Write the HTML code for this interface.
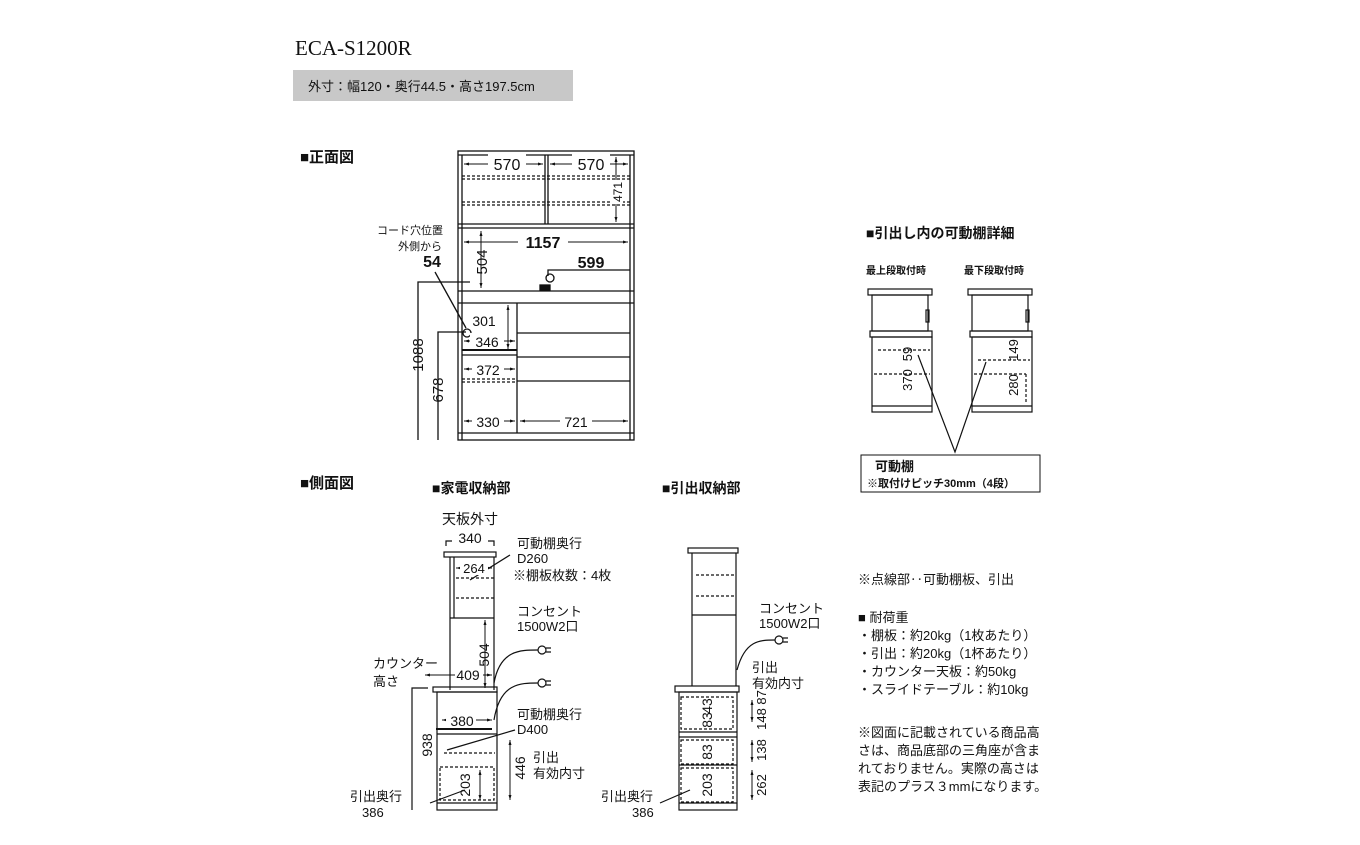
<!DOCTYPE html>
<html><head><meta charset="utf-8"><style>
body{margin:0;background:#fff}
svg text{font-family:"Liberation Sans","Noto Sans CJK JP",sans-serif;fill:#111}
</style></head><body>
<svg width="1360" height="840" viewBox="0 0 1360 840" xmlns="http://www.w3.org/2000/svg">
<defs><marker id="a" viewBox="0 0 10 10" refX="10" refY="5" markerWidth="5" markerHeight="5" orient="auto-start-reverse"><path d="M0,2L10,5L0,8z" fill="#111"/></marker></defs>
<text x="295" y="55" style="font-family:'Liberation Serif',serif" font-size="21">ECA-S1200R</text>
<rect x="293" y="70" width="280" height="31" fill="#c8c8c8"/>
<text x="308" y="91" font-size="13">外寸：幅120・奥行44.5・高さ197.5cm</text>
<text x="300" y="162" font-size="15" font-weight="bold">■正面図</text>
<text x="300" y="488" font-size="15" font-weight="bold">■側面図</text>
<text x="432" y="493" font-size="14" font-weight="bold">■家電収納部</text>
<text x="662" y="493" font-size="14" font-weight="bold">■引出収納部</text>
<text x="866" y="238" font-size="14" font-weight="bold">■引出し内の可動棚詳細</text>
<g fill="none" stroke="#111" stroke-width="1.3">
<rect x="458" y="151" width="176" height="289"/>
<line x1="462" y1="155" x2="462" y2="440"/><line x1="630" y1="155" x2="630" y2="440"/>
<line x1="458" y1="155" x2="634" y2="155"/>
<line x1="545" y1="155" x2="545" y2="224"/><line x1="548" y1="155" x2="548" y2="224"/>
<line x1="458" y1="224" x2="634" y2="224"/><line x1="458" y1="228" x2="634" y2="228"/>
<line x1="458" y1="291" x2="634" y2="291"/><line x1="458" y1="303" x2="634" y2="303"/>
<line x1="517" y1="303" x2="517" y2="433"/>
<line x1="462" y1="350" x2="517" y2="350" stroke-width="2"/><line x1="462" y1="355" x2="517" y2="355"/>
<line x1="517" y1="333" x2="630" y2="333"/><line x1="517" y1="357" x2="630" y2="357"/><line x1="517" y1="381" x2="630" y2="381"/>
<line x1="458" y1="433" x2="634" y2="433"/>
<g stroke-dasharray="3,2"><line x1="462" y1="176" x2="630" y2="176"/><line x1="462" y1="179" x2="630" y2="179"/><line x1="462" y1="202" x2="630" y2="202"/><line x1="462" y1="205" x2="630" y2="205"/><line x1="462" y1="379" x2="515" y2="379"/><line x1="462" y1="382" x2="515" y2="382"/></g>
<g stroke-width="1" marker-start="url(#a)" marker-end="url(#a)">
<line x1="464" y1="164" x2="543" y2="164"/><line x1="550" y1="164" x2="628" y2="164"/>
<line x1="464" y1="242" x2="628" y2="242"/><line x1="481" y1="231" x2="481" y2="288"/>
<line x1="616" y1="157" x2="616" y2="222"/><line x1="464" y1="341" x2="515" y2="341"/>
<line x1="508" y1="305" x2="508" y2="349"/><line x1="464" y1="369" x2="515" y2="369"/>
<line x1="464" y1="421" x2="515" y2="421"/><line x1="520" y1="421" x2="628" y2="421"/>
</g>
<polyline points="418,440 418,282 470,282"/><polyline points="438,440 438,332 466,332"/>
<polyline points="548,276 548,270 630,270"/>
<line x1="435" y1="272" x2="466" y2="328"/>
<circle cx="467" cy="333" r="4"/><circle cx="550" cy="278" r="4"/>
<rect x="540" y="285" width="10" height="5" fill="#111"/>
</g>
<g font-size="16" text-anchor="middle">
<rect x="488" y="154" width="38" height="18" fill="#fff"/><text x="507" y="170">570</text>
<rect x="572" y="154" width="38" height="18" fill="#fff"/><text x="591" y="170">570</text>
<rect x="518" y="233" width="50" height="18" fill="#fff"/><text x="543" y="248" font-weight="bold">1157</text>
<text x="591" y="268" font-weight="bold">599</text>
<rect x="470" y="333" width="34" height="16" fill="#fff"/><text x="487" y="347" font-size="14">346</text>
<text x="484" y="326" font-size="14">301</text>
<rect x="472" y="361" width="32" height="16" fill="#fff"/><text x="488" y="375" font-size="14">372</text>
<rect x="472" y="413" width="32" height="16" fill="#fff"/><text x="488" y="427" font-size="14">330</text>
<rect x="560" y="413" width="32" height="16" fill="#fff"/><text x="576" y="427" font-size="14">721</text>
<text x="432" y="267" font-weight="bold">54</text>
</g>
<text x="410" y="234" font-size="11" text-anchor="middle">コード穴位置</text>
<text x="420" y="250" font-size="11" text-anchor="middle">外側から</text>
<g font-size="15">
<text transform="translate(487,262) rotate(-90)" text-anchor="middle">504</text>
<rect x="611" y="180" width="12" height="24" fill="#fff"/>
<text transform="translate(622,192) rotate(-90)" text-anchor="middle" font-size="12">471</text>
<text transform="translate(423,355) rotate(-90)" text-anchor="middle">1088</text>
<text transform="translate(443,390) rotate(-90)" text-anchor="middle">678</text>
</g>
<g fill="none" stroke="#111" stroke-width="1.2">
<rect x="868" y="289" width="64" height="6"/><rect x="872" y="295" width="56" height="36"/>
<rect x="870" y="331" width="62" height="6"/><rect x="872" y="337" width="60" height="75"/>
<line x1="872" y1="406" x2="932" y2="406"/>
<rect x="968" y="289" width="64" height="6"/><rect x="972" y="295" width="56" height="36"/>
<rect x="970" y="331" width="62" height="6"/><rect x="972" y="337" width="60" height="75"/>
<line x1="972" y1="406" x2="1032" y2="406"/>
<rect x="926" y="310" width="3" height="12"/><rect x="1026" y="310" width="3" height="12"/>
<g stroke-dasharray="3,2"><line x1="878" y1="350" x2="930" y2="350"/><line x1="874" y1="374" x2="930" y2="374"/><line x1="978" y1="360" x2="1030" y2="360"/><line x1="974" y1="374" x2="1026" y2="374"/><line x1="1026" y1="374" x2="1026" y2="404"/></g>
<polyline points="918,355 955,452 986,362"/>
<rect x="861" y="455" width="179" height="37" stroke-width="1"/>
</g>
<g font-size="13"><text transform="translate(912,354) rotate(-90)" text-anchor="middle">59</text><text transform="translate(912,380) rotate(-90)" text-anchor="middle">370</text>
<text transform="translate(1018,350) rotate(-90)" text-anchor="middle">149</text><text transform="translate(1018,385) rotate(-90)" text-anchor="middle">280</text></g>
<text x="866" y="274" font-size="10" font-weight="bold">最上段取付時</text>
<text x="964" y="274" font-size="10" font-weight="bold">最下段取付時</text>
<text x="875" y="471" font-size="13" font-weight="bold">可動棚</text>
<text x="867" y="487" font-size="11" font-weight="bold">※取付けピッチ30mm（4段）</text>
<g fill="none" stroke="#111" stroke-width="1.2">
<polyline points="446,546 446,541 452,541"/><polyline points="488,541 494,541 494,546"/>
<rect x="444" y="552" width="52" height="5"/><line x1="450" y1="557" x2="450" y2="690"/><line x1="494" y1="557" x2="494" y2="690"/>
<line x1="450" y1="618" x2="494" y2="618"/><line x1="454" y1="557" x2="454" y2="618"/>
<rect x="433" y="687" width="64" height="5"/><rect x="437" y="692" width="60" height="118"/>
<line x1="436" y1="729" x2="492" y2="729" stroke-width="2"/><line x1="437" y1="734" x2="497" y2="734"/>
<line x1="437" y1="803" x2="497" y2="803"/>
<g stroke-dasharray="3,2"><line x1="456" y1="578" x2="494" y2="578"/><line x1="456" y1="598" x2="494" y2="598"/><line x1="444" y1="753" x2="495" y2="753"/><rect x="440" y="767" width="54" height="33"/></g>
<polyline points="412,810 412,688 428,688"/>
<rect x="688" y="548" width="50" height="5"/><line x1="692" y1="553" x2="692" y2="686"/><line x1="736" y1="553" x2="736" y2="686"/>
<line x1="692" y1="615" x2="736" y2="615"/>
<rect x="675" y="686" width="64" height="6"/><rect x="679" y="692" width="58" height="118"/>
<line x1="679" y1="732" x2="737" y2="732"/><line x1="679" y1="737" x2="737" y2="737"/><line x1="679" y1="765" x2="737" y2="765"/><line x1="679" y1="803" x2="737" y2="803"/>
<g stroke-dasharray="3,2"><rect x="681" y="697" width="52" height="32"/><rect x="681" y="740" width="52" height="24"/><rect x="681" y="768" width="52" height="34"/><line x1="696" y1="575" x2="736" y2="575"/><line x1="696" y1="596" x2="736" y2="596"/></g>
<path d="M494,683 C500,650 520,650 538,650"/><path d="M494,720 C500,683 520,683 538,683"/>
<path d="M737,670 C745,640 760,640 775,640"/>
<circle cx="542" cy="650" r="4"/><circle cx="542" cy="683" r="4"/><circle cx="779" cy="640" r="4"/>
<path d="M546,648h5M546,652h5M546,681h5M546,685h5M783,638h5M783,642h5"/>
<line x1="447" y1="750" x2="515" y2="730"/><line x1="430" y1="803" x2="465" y2="790"/><line x1="660" y1="803" x2="690" y2="790"/><line x1="470" y1="580" x2="510" y2="555"/>
</g>
<g stroke="#111" stroke-width="1" marker-start="url(#a)" marker-end="url(#a)">
<line x1="456" y1="568" x2="492" y2="568"/><line x1="485" y1="620" x2="485" y2="688"/><line x1="425" y1="675" x2="492" y2="675"/>
<line x1="442" y1="720" x2="492" y2="720"/><line x1="510" y1="740" x2="510" y2="800"/><line x1="480" y1="770" x2="480" y2="800"/>
<line x1="752" y1="700" x2="752" y2="722"/><line x1="752" y1="740" x2="752" y2="762"/><line x1="752" y1="770" x2="752" y2="800"/>
</g>
<g font-size="14" text-anchor="middle">
<text x="470" y="543">340</text><text x="470" y="524">天板外寸</text>
<rect x="460" y="561" width="28" height="14" fill="#fff"/><text x="474" y="573" font-size="13">264</text>
<rect x="455" y="667" width="28" height="16" fill="#fff"/><text x="468" y="680">409</text>
<rect x="446" y="712" width="30" height="16" fill="#fff"/><text x="462" y="726">380</text>
</g>
<g font-size="14"><text transform="translate(489,655) rotate(-90)" text-anchor="middle">504</text>
<text transform="translate(432,745) rotate(-90)" text-anchor="middle">938</text>
<text transform="translate(525,768) rotate(-90)" text-anchor="middle">446</text>
<text transform="translate(470,785) rotate(-90)" text-anchor="middle">203</text>
<text transform="translate(712,785) rotate(-90)" text-anchor="middle">203</text>
<text transform="translate(712,752) rotate(-90)" text-anchor="middle">83</text>
<text transform="translate(712,720) rotate(-90)" text-anchor="middle">83</text>
<text transform="translate(712,706) rotate(-90)" text-anchor="middle">43</text>
<text transform="translate(766,710) rotate(-90)" text-anchor="middle" font-size="13">148 87</text>
<text transform="translate(766,750) rotate(-90)" text-anchor="middle" font-size="13">138</text>
<text transform="translate(766,785) rotate(-90)" text-anchor="middle" font-size="13">262</text></g>
<g font-size="13">
<text x="517" y="548">可動棚奥行</text><text x="517" y="563">D260</text><text x="513" y="580">※棚板枚数：4枚</text>
<text x="517" y="616">コンセント</text><text x="517" y="631">1500W2口</text>
<text x="373" y="668">カウンター</text><text x="373" y="686">高さ</text>
<text x="517" y="719">可動棚奥行</text><text x="517" y="734">D400</text>
<text x="533" y="762">引出</text><text x="533" y="778">有効内寸</text>
<text x="350" y="801">引出奥行</text><text x="362" y="817">386</text>
<text x="759" y="613">コンセント</text><text x="759" y="628">1500W2口</text>
<text x="752" y="672">引出</text><text x="752" y="688">有効内寸</text>
<text x="601" y="801">引出奥行</text><text x="632" y="817">386</text>
<text x="858" y="584">※点線部‥可動棚板、引出</text>
<text x="858" y="622">■ 耐荷重</text>
<text x="858" y="640">・棚板：約20kg（1枚あたり）</text>
<text x="858" y="658">・引出：約20kg（1杯あたり）</text>
<text x="858" y="676">・カウンター天板：約50kg</text>
<text x="858" y="694">・スライドテーブル：約10kg</text>
<text x="858" y="737">※図面に記載されている商品高</text>
<text x="858" y="755">さは、商品底部の三角座が含ま</text>
<text x="858" y="773">れておりません。実際の高さは</text>
<text x="858" y="791">表記のプラス３mmになります。</text>
</g>
</svg>
</body></html>
